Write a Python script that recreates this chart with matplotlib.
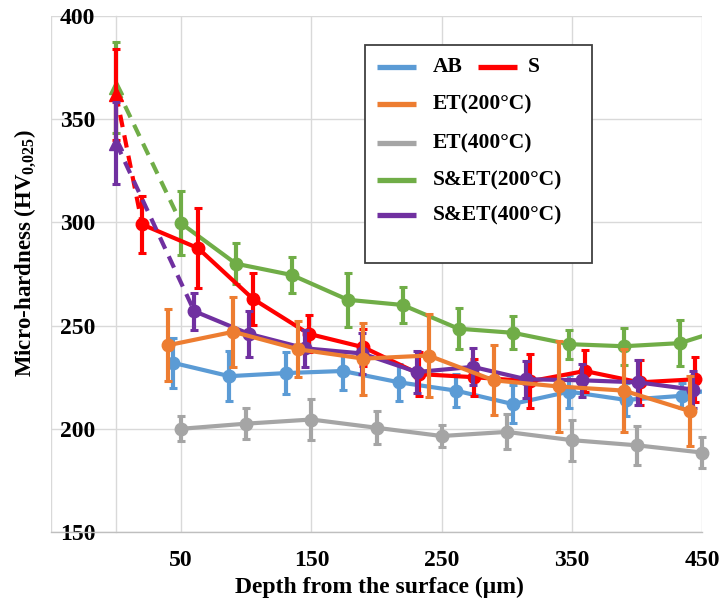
import matplotlib
matplotlib.use("Agg")
import matplotlib.pyplot as plt
from matplotlib.lines import Line2D
from matplotlib.patches import Rectangle

plt.rcParams['font.family'] = ['Liberation Serif', 'DejaVu Serif']
plt.rcParams['font.weight'] = 'bold'
plt.rcParams['mathtext.fontset'] = 'custom'
plt.rcParams['mathtext.rm'] = 'Liberation Serif:bold'
plt.rcParams['mathtext.bf'] = 'Liberation Serif:bold'

# ---------------- data ----------------
ab_x = [43.5, 87, 130.5, 174, 217.5, 261, 304.5, 348, 391.5, 435, 478.5]
ab_y = [232, 225.5, 227, 228, 222.5, 218.5, 212, 218, 214, 216, 222]
ab_e = [12, 12, 10, 9, 9, 8, 9, 8, 8, 6, 8]

s_x = [0, 20, 63, 105, 148, 190, 233, 275, 318, 360, 402, 445]
s_y = [362, 299, 287.5, 263, 246, 239.5, 226.5, 225, 223, 228, 222.5, 224]
s_e = [22, 14, 19.5, 12.5, 9, 9, 10.5, 9, 13, 10, 11, 11]

et200_x = [40, 90, 140, 190, 240, 290, 340, 390, 441]
et200_y = [240.5, 247, 238.5, 234, 235.5, 223.5, 220.5, 218.5, 208.5]
et200_e = [17.5, 17, 13.5, 17.5, 20, 17, 22, 20, 17]

et400_x = [50, 100, 150, 200, 250, 300, 350, 400, 450]
et400_y = [200, 202.5, 204.5, 200.5, 196.5, 198.5, 194.5, 192, 188.5]
et400_e = [6, 7.5, 10, 8, 5.5, 8.5, 10, 9.5, 7.5]

set200_x = [0, 50, 92, 135, 178, 220, 263, 305, 348, 390, 433, 476]
set200_y = [365.5, 299.5, 280, 274.5, 262.5, 260, 248.5, 246.5, 241, 240, 241.5, 250]
set200_e = [22, 15.5, 10, 8.5, 13, 8.5, 10, 8, 7, 9, 11, 8]

set400_x = [0, 60, 102, 145, 189, 231, 274, 315, 358, 401, 443]
set400_y = [338.5, 257, 246, 239, 236.5, 227.5, 230, 224, 223.5, 222.5, 219]
set400_e = [20, 9, 11, 9, 10, 10, 9, 9, 8, 11, 9]

labels = ['AB', 'S', 'ET(200°C)', 'ET(400°C)', 'S&ET(200°C)', 'S&ET(400°C)']
colors = ['#5B9BD5', '#FF0000', '#ED7D31', '#A5A5A5', '#70AD47', '#7030A0']

x_ticks = [-50, 50, 150, 250, 350, 450]
x_ticklabels = ['', '50', '150', '250', '350', '450']
y_ticks = [150, 200, 250, 300, 350, 400]

# ---------------- figure ----------------
W, H = 723, 601
fig = plt.figure(figsize=(W / 100, H / 100), dpi=100)
L, R, T, B = 51, 702, 16, 532
ax = fig.add_axes([L / W, 1 - B / H, (R - L) / W, (B - T) / H])

LW = 3.0
MS = 9
EKW = dict(elinewidth=3.0, capsize=2.6, capthick=2.2)


def series(x, y, e, color, z, clip=True):
    ln = ax.errorbar(x, y, yerr=e, color=color, lw=LW, marker='o', ms=MS,
                     zorder=z, **EKW)
    for art in [ln[0], *ln[1], *ln[2]]:
        art.set_clip_on(clip)
    return ln


def surface_series(x, y, e, color, z):
    # dashed link from surface point (triangle) to first sub-surface point
    ax.plot(x[:2], y[:2], color=color, lw=LW, linestyle=(0, (3, 2)), zorder=z)
    ax.errorbar(x[:1], y[:1], yerr=e[:1], color=color, lw=0, marker='^',
                ms=MS + 1, zorder=z, **EKW)
    series(x[1:], y[1:], e[1:], color, z)


series(et400_x, et400_y, et400_e, colors[3], 3, clip=False)
series(ab_x, ab_y, ab_e, colors[0], 4)
surface_series(set200_x, set200_y, set200_e, colors[4], 5)
surface_series(s_x, s_y, s_e, colors[1], 6)
surface_series(set400_x, set400_y, set400_e, colors[5], 7)
series(et200_x, et200_y, et200_e, colors[2], 8)

# ---------------- axes styling ----------------
ax.set_xlim(-50, 450)
ax.set_ylim(150, 400)
ax.set_xticks(x_ticks)
ax.set_xticklabels(x_ticklabels)
ax.set_yticks(y_ticks)
ax.grid(True, color='#D9D9D9', lw=1.0, zorder=0)
ax.set_axisbelow(True)
for sp in ['top', 'right']:
    ax.spines[sp].set_visible(False)
ax.spines['left'].set_position(('data', 0))
ax.spines['left'].set_color('#D9D9D9')
ax.spines['bottom'].set_color('#BFBFBF')
ax.spines['left'].set_linewidth(1.0)
ax.spines['bottom'].set_linewidth(1.0)
ax.tick_params(axis='both', length=0, labelsize=17)
ax.tick_params(axis='y', pad=15)
ax.tick_params(axis='x', pad=13)
for t in ax.get_xticklabels() + ax.get_yticklabels():
    t.set_fontweight('bold')

ax.set_xlabel('Depth from the surface (μm)', fontsize=17, fontweight='bold')
ax.xaxis.set_label_coords(0.504, (B - 587) / (B - T))
ax.xaxis.label.set_va('center')
ax.set_ylabel(r'Micro-hardness (HV$_{\mathbf{0{,}025}}$)', fontsize=16.5,
              fontweight='bold')
ax.yaxis.set_label_coords((25 - L) / (R - L), (B - 253) / (B - T))
ax.yaxis.label.set_va('center')

# ---------------- legend (Excel-style layout) ----------------
def axx(px):
    return (px - L) / (R - L)


def axy(py):
    return (B - py) / (B - T)


ax.add_patch(Rectangle((axx(365), axy(263)), axx(592) - axx(365),
                       axy(45) - axy(263), transform=ax.transAxes,
                       facecolor='white', edgecolor='#404040', lw=1.3,
                       zorder=20))
rows = [67, 67, 104, 143, 180, 215]
hx0 = [377, 478, 377, 377, 377, 377]
tx0 = [433, 528, 433, 433, 433, 433]
for lab, col, py, hx, tx in zip(labels, colors, rows, hx0, tx0):
    ax.add_line(Line2D([axx(hx), axx(hx + 39)], [axy(py), axy(py)],
                       transform=ax.transAxes, color=col, lw=3.8,
                       solid_capstyle='butt', zorder=21))
    ax.text(axx(tx), axy(py), lab, transform=ax.transAxes, fontsize=15.5,
            fontweight='bold', ha='left', va='center', zorder=22)

fig.savefig('out.png', dpi=100)
